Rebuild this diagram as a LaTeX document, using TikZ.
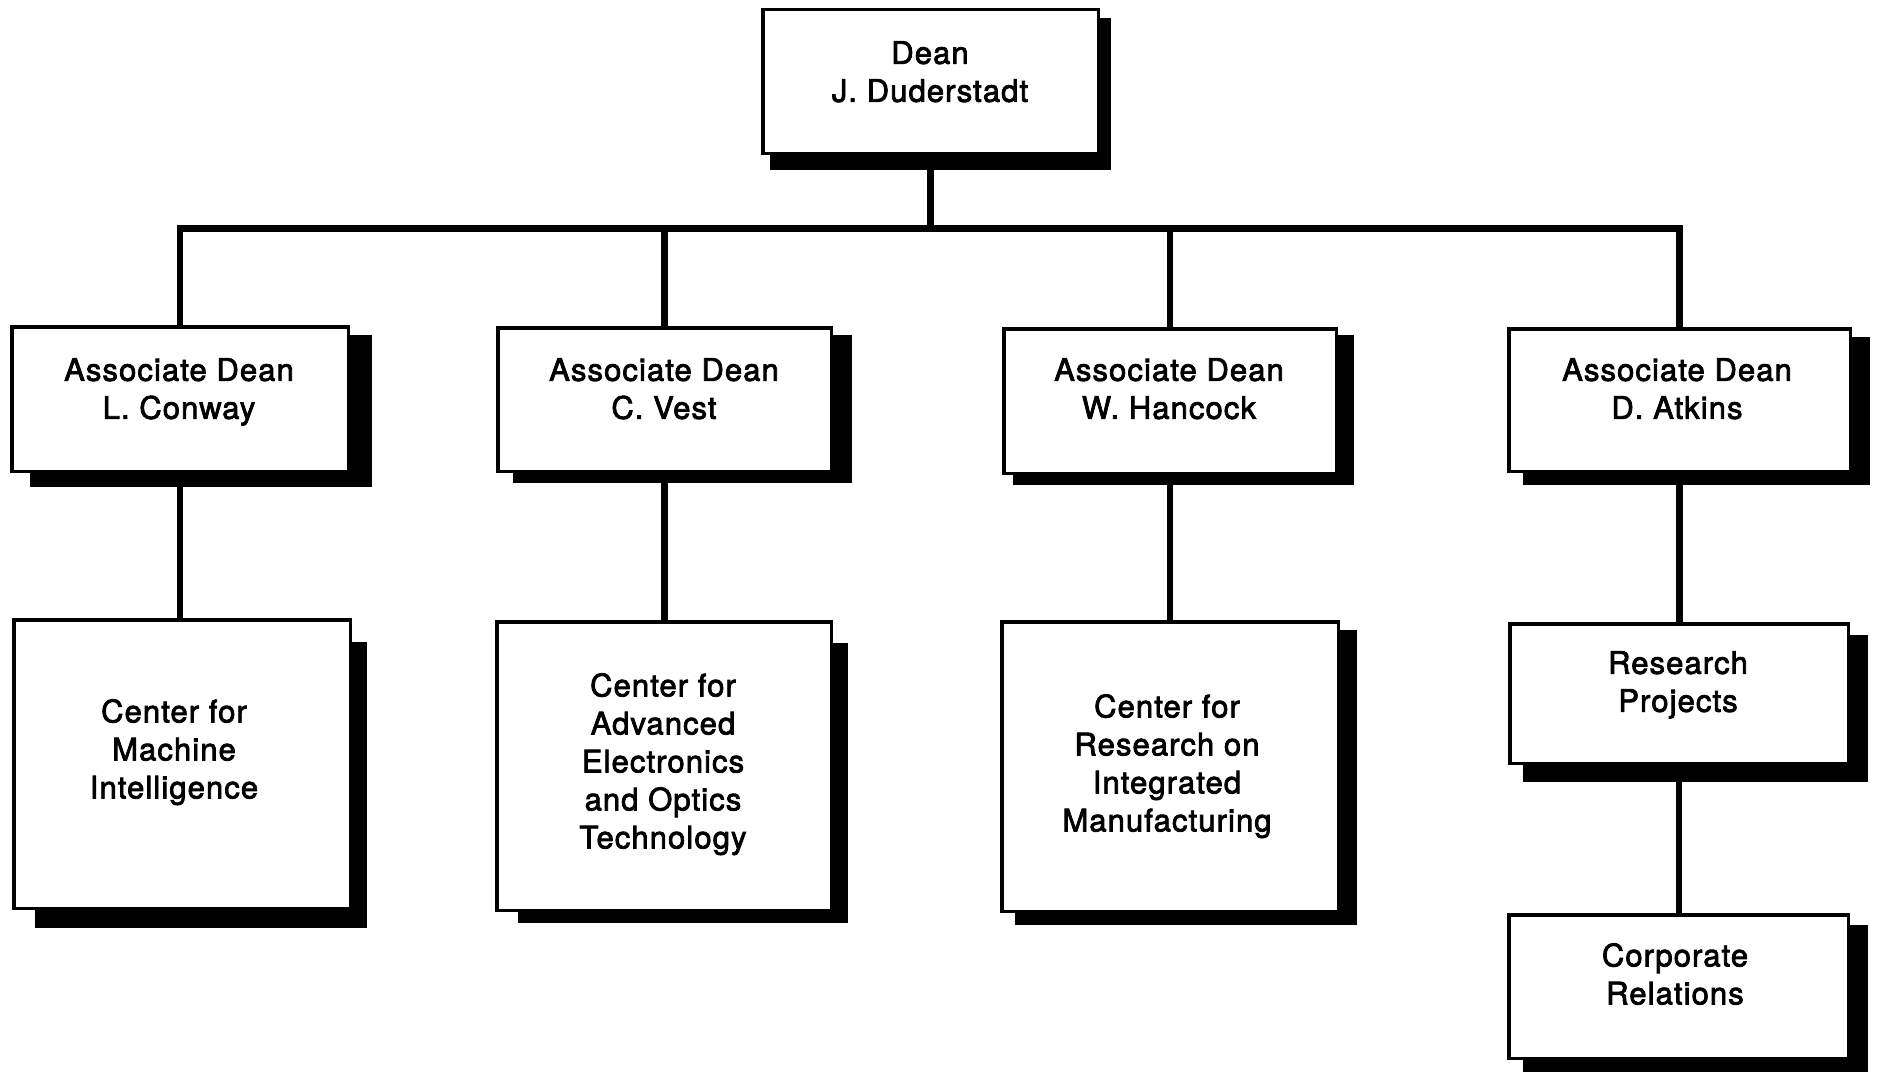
\documentclass[tikz,border=0pt]{standalone}
\usepackage{fontspec}
\setmainfont{TeX Gyre Heros}[LetterSpace=3.5, FakeBold=2.5]
\begin{document}
\begin{tikzpicture}[x=1pt, y=-1pt,
  orgbox/.style={draw, line width=3.5pt, fill=white, inner sep=0pt, rectangle},
  orgtext/.style={align=center, inner sep=0pt, anchor=north,
                  font=\fontsize{31}{38}\selectfont},
  conn/.style={line width=6.5pt, line join=miter},
  shade/.style={fill=black}]
\useasboundingbox[fill=white] (0,0) rectangle (1877,1073);

% drop shadows
\fill[shade] (770,18) rectangle (1111,170);
\fill[shade] (30,335) rectangle (372,487);
\fill[shade] (513,335) rectangle (852,483);
\fill[shade] (1013,335) rectangle (1354,485);
\fill[shade] (1523,337) rectangle (1870,485);
\fill[shade] (35,642) rectangle (367,928);
\fill[shade] (518,643) rectangle (848,923);
\fill[shade] (1015,630) rectangle (1357,925);
\fill[shade] (1523,635) rectangle (1868,782);
\fill[shade] (1523,925) rectangle (1868,1072);

% boxes
\node[orgbox, minimum width=335.5pt, minimum height=143.5pt] (dean)    at (930.5,81.5) {};
\node[orgbox, minimum width=336.5pt, minimum height=144.5pt] (conway)  at (180,399) {};
\node[orgbox, minimum width=333.5pt, minimum height=143.5pt] (vest)    at (664.5,399.5) {};
\node[orgbox, minimum width=332.5pt, minimum height=144.5pt] (hancock) at (1170,401) {};
\node[orgbox, minimum width=341.5pt, minimum height=142.5pt] (atkins)  at (1679.5,400) {};
\node[orgbox, minimum width=336.5pt, minimum height=288.5pt] (cmi)     at (182,764) {};
\node[orgbox, minimum width=334.5pt, minimum height=288.5pt] (caeot)   at (664,766) {};
\node[orgbox, minimum width=336.5pt, minimum height=289.5pt] (crim)    at (1170,766.5) {};
\node[orgbox, minimum width=338.5pt, minimum height=139.5pt] (rp)      at (1679,693.5) {};
\node[orgbox, minimum width=339.5pt, minimum height=143.5pt] (cr)      at (1678.5,986.5) {};

% labels
\node[orgtext] (dean-t)    at (930,41)   {Dean\\J. Duderstadt};
\node[orgtext] (conway-t)  at (179,358)  {Associate Dean\\L. Conway};
\node[orgtext] (vest-t)    at (664,358)  {Associate Dean\\C. Vest};
\node[orgtext] (hancock-t) at (1169,358) {Associate Dean\\W. Hancock};
\node[orgtext] (atkins-t)  at (1677,358) {Associate Dean\\D. Atkins};
\node[orgtext] (cmi-t)     at (174,699)  {Center for\\Machine\\Intelligence};
\node[orgtext] (caeot-t)   at (663,673)  {Center for\\Advanced\\Electronics\\and Optics\\Technology};
\node[orgtext] (crim-t)    at (1167,694) {Center for\\Research on\\Integrated\\Manufacturing};
\node[orgtext] (rp-t)      at (1678,651) {Research\\Projects};
\node[orgtext] (cr-t)      at (1675,943) {Corporate\\Relations};

% reporting lines
\coordinate (bus) at (930.5,228.5);
\draw[conn] (dean.south) -- (bus);
\draw[conn] (conway.north) |- (bus) -| (atkins.north);
\draw[conn] (vest.north) -- (vest.north |- bus);
\draw[conn] (hancock.north) -- (hancock.north |- bus);
\draw[conn] (conway.south) -- (conway.south |- cmi.north);
\draw[conn] (vest.south) -- (vest.south |- caeot.north);
\draw[conn] (hancock.south) -- (hancock.south |- crim.north);
\draw[conn] (atkins.south) -- (atkins.south |- rp.north);
\draw[conn] (rp.south) -- (rp.south |- cr.north);
\end{tikzpicture}
\end{document}
